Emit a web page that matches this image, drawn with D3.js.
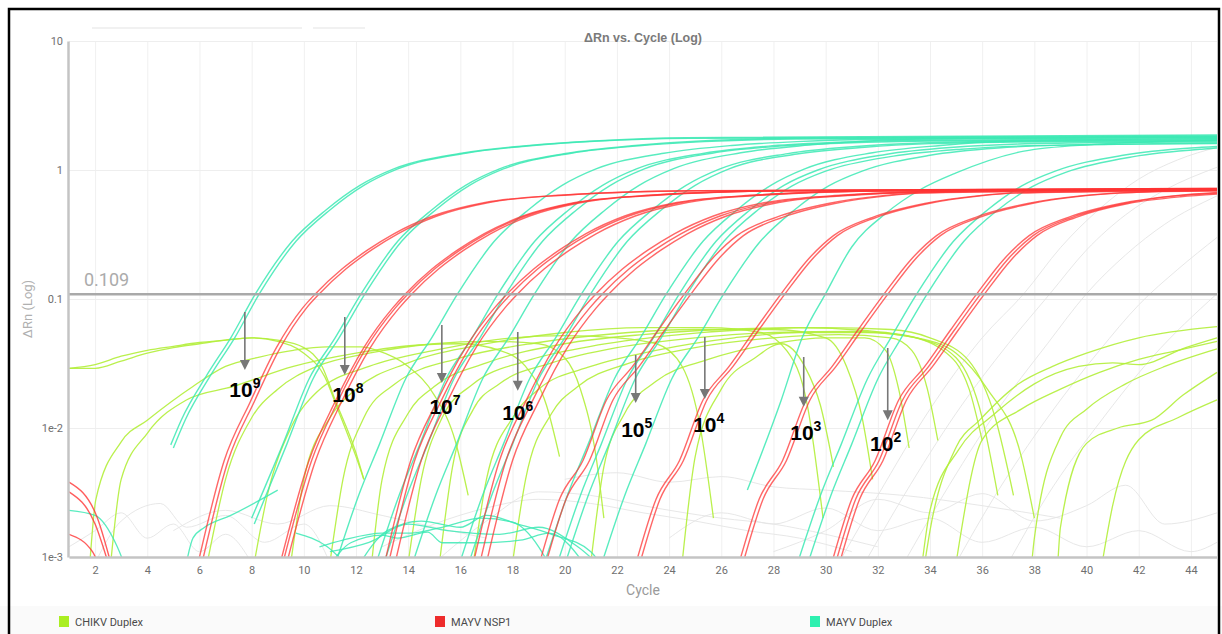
<!DOCTYPE html>
<html><head><meta charset="utf-8">
<script src="https://cdn.jsdelivr.net/npm/d3@7"></script>
<style>
body{margin:0;background:#fff;}
svg{display:block;font-family:Roboto,"Open Sans",sans-serif;}
</style>
</head><body>
<svg id="chart" width="1222" height="634"></svg>
<script>
// ---------- data ----------
const cycleTicks = [2,4,6,8,10,12,14,16,18,20,22,24,26,28,30,32,34,36,38,40,42,44];
const valueTicks = [0.001, 0.01, 0.1, 1, 10];
const valueTickLabels = ["1e-3", "1e-2", "0.1", "1", "10"];
const threshold = 0.109;
const seriesNames = ["CHIKV Duplex", "MAYV NSP1", "MAYV Duplex"];

// MAYV NSP1 amplification curves: [cycle, ΔRn]
const mayvNsp1 = [
 [[5.95,.0009],[6.95,.0056],[7.95,.016],[8.95,.042],[9.95,.085],[10.45,.11],[11.45,.17],[12.45,.24],[13.45,.32],[14.95,.44],[16.95,.56],[19.95,.64],[24.95,.69],[45,.72]],
 [[6.1,.0009],[7.1,.0056],[8.1,.016],[9.1,.042],[10.1,.085],[10.6,.11],[11.6,.17],[12.6,.24],[13.6,.32],[15.1,.44],[17.1,.56],[20.1,.64],[25.1,.69],[45,.715]],
 [[9.1,.0009],[10.2,.0056],[11.2,.016],[12.3,.042],[13.4,.085],[13.9,.11],[14.9,.17],[15.9,.24],[16.9,.32],[18.4,.44],[20.4,.56],[23.4,.64],[28.4,.69],[45,.72]],
 [[9.2,.0009],[10.3,.0056],[11.3,.016],[12.4,.042],[13.5,.085],[14.0,.11],[15.0,.17],[16.0,.24],[17.0,.32],[18.5,.44],[20.5,.56],[23.5,.64],[28.5,.69],[45,.71]],
 [[9.35,.0009],[10.45,.0056],[11.45,.016],[12.55,.042],[13.65,.085],[14.15,.11],[15.15,.17],[16.15,.24],[17.15,.32],[18.65,.44],[20.65,.56],[23.65,.64],[28.65,.69],[45,.70]],
 [[13.1,.0009],[14.1,.0056],[15.1,.016],[16.2,.042],[17.3,.085],[17.8,.11],[18.8,.17],[19.8,.24],[20.8,.32],[22.3,.44],[24.3,.56],[27.3,.64],[32.3,.69],[45,.71]],
 [[13.25,.0009],[14.25,.0056],[15.25,.016],[16.35,.042],[17.45,.085],[17.95,.11],[18.95,.17],[19.95,.24],[20.95,.32],[22.45,.44],[24.45,.56],[27.45,.64],[32.45,.69],[45,.70]],
 [[13.5,.0009],[14.5,.0056],[15.5,.016],[16.6,.042],[17.7,.085],[18.2,.11],[19.2,.17],[20.2,.24],[21.2,.32],[22.7,.44],[24.7,.56],[27.7,.64],[32.7,.69],[45,.71]],
 [[16.5,.0009],[17.5,.0056],[18.5,.016],[19.6,.042],[20.7,.085],[21.2,.11],[22.2,.17],[23.2,.24],[24.2,.32],[25.7,.44],[27.7,.56],[30.7,.64],[35.7,.69],[45,.71]],
 [[16.75,.0009],[17.75,.0056],[18.75,.016],[19.85,.042],[20.95,.085],[21.45,.11],[22.45,.17],[23.45,.24],[24.45,.32],[25.95,.44],[27.95,.56],[30.95,.64],[35.95,.69],[45,.70]],
 [[17.0,.0009],[18.0,.0056],[19.0,.016],[20.1,.042],[21.2,.085],[21.7,.11],[22.7,.17],[23.7,.24],[24.7,.32],[26.2,.44],[28.2,.56],[31.2,.64],[36.2,.69],[45,.71]],
 [[19.1,.001],[19.8,.0028],[20.7,.0056],[21.6,.0165],[22.6,.03],[23.6,.058],[24.6,.11],[25.6,.2],[26.6,.31],[28.1,.43],[30.1,.55],[32.1,.63],[33.6,.665],[45,.70]],
 [[19.35,.001],[20.05,.0028],[20.95,.0056],[21.85,.0165],[22.85,.03],[23.85,.058],[24.85,.11],[25.85,.2],[26.85,.31],[28.35,.43],[30.35,.55],[32.35,.63],[33.85,.665],[45,.71]],
 [[22.8,.001],[23.5,.0028],[24.4,.0056],[25.3,.0165],[26.3,.03],[27.3,.058],[28.3,.11],[29.3,.2],[30.3,.31],[31.8,.43],[33.8,.55],[35.8,.63],[37.3,.665],[45,.70]],
 [[22.95,.001],[23.65,.0028],[24.55,.0056],[25.45,.0165],[26.45,.03],[27.45,.058],[28.45,.11],[29.45,.2],[30.45,.31],[31.95,.43],[33.95,.55],[35.95,.63],[37.45,.665],[45,.69]],
 [[26.75,.001],[27.45,.0028],[28.35,.0056],[29.25,.0165],[30.25,.03],[31.25,.058],[32.25,.11],[33.25,.2],[34.25,.31],[35.75,.43],[37.75,.55],[39.75,.63],[41.25,.665],[45,.69]],
 [[26.9,.001],[27.6,.0028],[28.5,.0056],[29.4,.0165],[30.4,.03],[31.4,.058],[32.4,.11],[33.4,.2],[34.4,.31],[35.9,.43],[37.9,.55],[39.9,.63],[41.4,.665],[45,.70]],
 [[30.3,.001],[31.0,.0028],[31.9,.0056],[32.8,.0165],[33.8,.03],[34.8,.058],[35.8,.11],[36.8,.2],[37.8,.31],[39.3,.43],[41.3,.55],[43.3,.63],[45,.67]],
 [[30.45,.001],[31.15,.0028],[32.05,.0056],[32.95,.0165],[33.95,.03],[34.95,.058],[35.95,.11],[36.95,.2],[37.95,.31],[39.45,.43],[41.45,.55],[43.45,.63],[45,.66]],
 [[30.6,.001],[31.3,.0028],[32.2,.0056],[33.1,.0165],[34.1,.03],[35.1,.058],[36.1,.11],[37.1,.2],[38.1,.31],[39.6,.43],[41.6,.55],[43.6,.62],[45,.65]]
];
// MAYV NSP1 low-level (non-amplifying) traces
const mayvNsp1Noise = [
 [[1,.0038],[2.05,.0021],[2.6,.0009]],
 [[1,.0032],[2.0,.0018],[2.5,.0009]],
 [[1,.0015],[1.9,.0011],[2.2,.0008]]
];

// MAYV Duplex amplification curves
const mayvDuplex = [
 [[4.9,.0074],[5.3,.0115],[6.3,.026],[7.2,.05],[8.15,.11],[9.55,.28],[10.85,.49],[12.15,.76],[13.45,1.02],[16.05,1.35],[18.65,1.55],[21.15,1.68],[24.65,1.78],[45,1.87]],
 [[5.0,.007],[5.45,.0115],[6.45,.026],[7.35,.05],[8.3,.11],[9.7,.28],[11.0,.49],[12.3,.76],[13.6,1.02],[16.2,1.35],[18.8,1.55],[21.3,1.68],[24.8,1.76],[45,1.84]],
 [[8.0,.002],[9.2,.0075],[10.2,.024],[11.2,.05],[12.2,.11],[13.6,.28],[14.9,.49],[16.2,.76],[17.5,1.02],[20.1,1.35],[22.7,1.55],[25.2,1.68],[28.7,1.76],[45,1.82]],
 [[8.1,.0018],[9.35,.0075],[10.35,.024],[11.35,.05],[12.35,.11],[13.75,.28],[15.05,.49],[16.35,.76],[17.65,1.02],[20.25,1.35],[22.85,1.54],[25.35,1.66],[28.85,1.74],[45,1.80]],
 [[11.3,.001],[12.1,.003],[12.9,.0075],[13.9,.024],[14.9,.05],[15.9,.11],[17.3,.28],[18.6,.49],[19.9,.76],[21.2,1.02],[23.8,1.35],[26.4,1.55],[28.9,1.66],[32.4,1.73],[45,1.78]],
 [[12.85,.001],[13.65,.003],[14.45,.0075],[15.45,.024],[16.45,.05],[17.45,.11],[18.85,.28],[20.15,.49],[21.45,.76],[22.75,1.02],[25.35,1.35],[27.95,1.54],[30.45,1.64],[33.95,1.70],[45,1.75]],
 [[13.15,.001],[13.95,.003],[14.75,.0075],[15.75,.024],[16.75,.05],[17.75,.11],[19.15,.28],[20.45,.49],[21.75,.76],[23.05,1.02],[25.65,1.35],[28.25,1.53],[30.75,1.62],[34.25,1.68],[45,1.72]],
 [[14.25,.001],[15.05,.003],[15.85,.0075],[16.85,.024],[17.85,.05],[18.85,.11],[20.25,.28],[21.55,.49],[22.85,.76],[24.15,1.02],[26.75,1.36],[29.35,1.56],[31.85,1.69],[35.35,1.76],[45,1.80]],
 [[16.05,.001],[16.85,.003],[17.65,.0075],[18.65,.024],[19.65,.05],[20.65,.11],[22.05,.28],[23.35,.49],[24.65,.76],[25.95,1.02],[28.55,1.34],[31.15,1.52],[33.65,1.62],[37.15,1.67],[45,1.70]],
 [[16.4,.001],[17.2,.003],[18.0,.0075],[19.0,.024],[20.0,.05],[21.0,.11],[22.4,.28],[23.7,.49],[25.0,.76],[26.3,1.02],[28.9,1.33],[31.5,1.5],[34.0,1.6],[37.5,1.65],[45,1.68]],
 [[19.3,.001],[20.1,.003],[20.9,.0075],[21.9,.024],[22.9,.05],[23.9,.11],[25.3,.28],[26.6,.49],[27.9,.76],[29.2,1.02],[31.8,1.36],[34.4,1.55],[36.9,1.67],[40.4,1.72],[45,1.75]],
 [[19.8,.001],[20.6,.003],[21.4,.0075],[22.4,.024],[23.4,.05],[24.4,.11],[25.8,.28],[27.1,.49],[28.4,.76],[29.7,1.0],[32.3,1.32],[34.9,1.5],[37.4,1.59],[40.9,1.63],[45,1.65]],
 [[20.1,.001],[20.9,.003],[21.7,.0075],[22.7,.024],[23.7,.05],[24.7,.11],[26.1,.28],[27.4,.49],[28.7,.75],[30.0,.98],[32.6,1.28],[35.2,1.45],[37.7,1.54],[41.2,1.58],[45,1.6]],
 [[21.5,.001],[22.3,.003],[23.1,.0075],[24.1,.024],[25.1,.05],[26.1,.11],[27.5,.28],[28.8,.49],[30.1,.75],[31.4,.98],[34.0,1.3],[36.6,1.48],[39.1,1.56],[42.6,1.6],[45,1.62]],
 [[27.0,.0033],[28.3,.0165],[29.1,.05],[30.0,.11],[31.0,.253],[32.3,.46],[33.6,.70],[35.0,.95],[37.6,1.40],[40.3,1.58],[43.6,1.68],[45,1.70]],
 [[29.0,.001],[29.8,.003],[30.6,.0075],[31.6,.024],[32.5,.05],[33.5,.11],[34.9,.28],[36.2,.49],[37.5,.75],[38.8,.98],[41.4,1.3],[44,1.48],[45,1.52]],
 [[29.4,.001],[30.2,.003],[31.0,.0075],[32.0,.024],[32.9,.05],[33.9,.11],[35.3,.28],[36.6,.49],[37.9,.74],[39.2,.96],[41.8,1.27],[44.4,1.45],[45,1.48]]
];
// MAYV Duplex low-level traces
const mayvDuplexNoise = [
 [[1,.0023],[2,.0021],[2.85,.0012],[3.2,.0008]],
 [[5.5,.0009],[5.75,.0014],[6.2,.0017],[7.2,.0021],[9.0,.0033]],
 [[9.7,.00153],[10.9,.0012],[11.8,.0008]],
 [[10.6,.0012],[11.5,.00135],[13,.00153],[14.1,.00153],[15.3,.0017],[16.8,.002],[18,.00186],[19,.0012],[19.5,.0008]],
 [[10.9,.0008],[11.8,.00129],[13,.00148],[13.6,.0014],[14.75,.00156],[15.3,.00129],[16.8,.00129],[18.3,.00135],[19.4,.00153],[20.9,.0008]],
 [[12,.0008],[13.2,.0016],[14.5,.0019],[16,.0017],[17,.0021],[18.2,.0018],[19.5,.0015],[21,.0011],[21.5,.0008]],
 [[11,.0011],[12.5,.0013],[14,.0018],[15.5,.0016],[17.5,.0015],[19,.0017],[20.5,.0012],[21.5,.0008]]
];

// CHIKV Duplex traces
const chikvDuplex = [
 [[1,.029],[2,.031],[3,.036],[4,.040],[5,.043],[6,.046],[7,.048],[8,.05],[9,.048],[10,.042],[10.7,.03],[11.2,.0165],[12,.0064],[12.3,.004]],
 [[1,.029],[2,.029],[3,.033],[4,.038],[5,.042],[6,.045],[7,.048],[8,.05],[9,.047],[10,.038],[10.8,.025],[11.3,.014],[12.0,.006],[12.3,.004]],
 [[1.8,.0009],[2.03,.0028],[3,.0078],[4,.0115],[5.75,.021],[7,.03],[8.3,.0355],[9.6,.04],[10.9,.0425],[12.2,.0425],[12.8,.04],[14,.03],[15,.018],[15.8,.008],[16.3,.003]],
 [[2.6,.0009],[3,.004],[4,.0091],[5.5,.0165],[7.3,.021],[9.6,.03],[12,.038],[14.4,.044],[16,.045],[17.5,.04],[18.5,.03],[19.3,.015],[19.8,.006]],
 [[6.3,.0009],[7,.004],[8,.012],[9,.02],[10.5,.03],[12.5,.038],[15,.045],[17,.047],[19,.045],[20,.035],[20.6,.02],[21.2,.006],[21.5,.002]],
 [[8.1,.0009],[8.6,.003],[9.5,.01],[10.5,.019],[12.5,.03],[15,.04],[18,.05],[20,.052],[22,.05],[23.5,.045],[24.5,.03],[25.2,.01],[25.7,.002]],
 [[9.5,.0009],[10,.004],[11,.012],[12,.02],[14,.032],[17,.045],[20,.055],[23,.06],[25.5,.06],[27.5,.055],[28.5,.04],[29.3,.015],[29.9,.002]],
 [[11,.0009],[11.5,.004],[12.3,.012],[13.5,.022],[16,.035],[19,.046],[22,.054],[25,.058],[28,.058],[30,.05],[30.8,.03],[31.4,.012],[31.8,.004]],
 [[12.6,.0009],[13,.004],[14,.013],[15,.021],[17,.032],[20,.045],[23,.053],[26,.058],[29,.06],[31.5,.057],[33.5,.05],[35,.035],[36,.012],[36.6,.003]],
 [[14,.0009],[14.5,.004],[15.3,.012],[16.5,.022],[18.5,.033],[21,.043],[24,.052],[27,.058],[30,.06],[32.5,.058],[34,.05],[35.5,.033],[36.5,.012],[37.2,.003]],
 [[15.2,.0009],[15.7,.005],[16.5,.014],[17.5,.022],[19.5,.032],[22,.042],[25,.05],[28,.055],[31,.056],[33,.052],[34.5,.04],[35.5,.02],[36,.008]],
 [[16.5,.0009],[17,.004],[18,.012],[19,.02],[21,.03],[23.5,.04],[26.5,.05],[29,.055],[31.5,.055],[33.5,.05],[35,.038],[36.2,.02],[37.5,.006],[38,.002]],
 [[18,.0009],[18.5,.004],[19.5,.013],[20.5,.021],[22.5,.032],[25,.042],[28,.05],[30.5,.053],[32.5,.05],[33.3,.04],[33.9,.02],[34.3,.008]],
 [[21,.0009],[21.5,.005],[22.3,.013],[23.5,.023],[25.5,.034],[28,.045],[30,.05],[31.5,.05],[32.3,.04],[32.8,.02],[33.2,.007]],
 [[24.5,.0009],[25,.006],[26,.02],[27.3,.035],[28.3,.045],[29.2,.03],[29.8,.015],[30.3,.005]],
 [[33.8,.0009],[34,.0016],[35,.0071],[35.9,.0115],[37.4,.022],[38.7,.03],[40,.038],[42,.05],[45,.061]],
 [[33.7,.0009],[34,.0023],[35.1,.0068],[36.5,.013],[38,.022],[39.7,.03],[41,.032],[42,.031],[43.8,.042],[45,.05]],
 [[35,.0009],[36,.0081],[37.5,.014],[39,.02],[40.5,.027],[42,.034],[43.5,.04],[45,.047]],
 [[37.9,.0009],[38,.0014],[39,.0085],[40,.014],[41.5,.022],[43,.03],[45,.041]],
 [[38.9,.0009],[39,.0017],[40,.0076],[41.2,.01],[42.5,.0115],[43.7,.018],[45,.027]],
 [[40.6,.0009],[41,.0025],[42,.0081],[43.5,.012],[45,.0165]]
];

// Other wells (not in legend)
const otherWells = [
 [[30.5,.0009],[32,.003],[34,.014],[36,.05],[37.6,.11],[39,.25],[40.5,.5],[42,.85],[43.5,1.2],[45,1.5]],
 [[31.5,.0009],[33,.003],[35,.013],[37,.045],[38.6,.11],[40,.24],[41.5,.45],[43,.7],[45,1.05]],
 [[33,.0009],[34.5,.003],[36.5,.013],[38.5,.045],[40,.11],[41.5,.22],[43,.38],[45,.63]],
 [[35,.0009],[36.5,.003],[38.5,.012],[40.5,.04],[42,.09],[43.5,.17],[45,.3]],
 [[37,.0009],[38.5,.003],[40.5,.011],[42.5,.035],[45,.11]],
 [[1,.0012],[2,.0016],[3,.0022],[4,.0014],[5,.0018],[6,.0011],[7,.0015],[8,.0009]],
 [[2,.0009],[3,.0019],[4.5,.0026],[5.5,.0017],[7,.0021],[8.5,.0013],[10,.0018],[11,.0009]],
 [[13,.0012],[15,.0018],[17,.0024],[19,.0028],[21,.0026],[23,.0022],[25,.0019],[27,.0016],[29,.0014],[31,.0011]],
 [[15,.0009],[17,.0019],[19,.0032],[21,.003],[23,.0025],[26,.002],[28,.0018],[30,.0015],[32,.0012]],
 [[24,.0014],[26,.0022],[28,.0018],[30,.0024],[32,.0016],[34,.002],[36,.0013],[38,.0017],[40,.0012],[42,.0016],[44,.0011],[45,.0013]],
 [[28,.0011],[30,.0016],[32,.0028],[34,.0022],[36,.0031],[38,.0019],[40,.0025],[41.5,.0036],[43,.0018],[45,.0022]],
 [[20,.004],[22,.0045],[24,.0038],[26,.0042],[28,.0035],[30,.0033],[33,.003],[36,.0025],[39,.002]],
 [[5,.0016],[7,.0023],[9,.0018],[11,.0025],[13,.0021],[15,.0017],[17,.0014]]
];

// Dilution annotations (arrow in data space)
const dilutionExp = ["9","8","7","6","5","4","3","2"];
const arrowCycle = [7.74, 11.57, 15.29, 18.2, 22.72, 25.37, 29.16, 32.38];
const arrowTopValue = [0.0793, 0.0725, 0.0629, 0.0555, 0.0368, 0.0507, 0.0355, 0.0417];
const arrowTipValue = [0.0282, 0.0258, 0.0223, 0.0194, 0.0156, 0.0168, 0.0146, 0.0115];
const labelCycle = [7.74, 11.69, 15.41, 18.2, 22.76, 25.52, 29.24, 32.3];
const labelValue = [0.0174, 0.0159, 0.01285, 0.01153, 0.0085, 0.0093, 0.0081, 0.0066];

// ---------- drawing ----------
const colors = {chikv:"#b2ee3a", nsp1:"#ff3434", duplex:"#3ce9b4", legendChikv:"#aaee22", legendNsp1:"#ee2c2c", legendDuplex:"#2ef0b0"};
const svg = d3.select("#chart");
const x = d3.scaleLinear().domain([1,45]).range([69,1217]);
const y = d3.scaleLog().domain([0.001,10]).range([557,41]);

// outer frame
svg.append("rect").attr("x",0).attr("y",0).attr("width",1222).attr("height",634).attr("fill","#fff");
svg.append("rect").attr("x",0).attr("y",606).attr("width",1222).attr("height",28).attr("fill","#fafafa");
svg.append("rect").attr("x",9).attr("y",9).attr("width",1210).attr("height",650)
  .attr("fill","none").attr("stroke","#000").attr("stroke-width",2.5);
// faint toolbar remnants
svg.append("rect").attr("x",92).attr("y",27).attr("width",210).attr("height",2).attr("fill","#f1f1f1");
svg.append("rect").attr("x",313).attr("y",27).attr("width",52).attr("height",2).attr("fill","#f1f1f1");

// grid
const gridX = svg.append("g").attr("transform","translate(0,557)")
  .call(d3.axisBottom(x).tickValues(cycleTicks).tickSize(-516).tickFormat(""));
gridX.select(".domain").remove();
gridX.selectAll("line").attr("stroke","#f0f0f0");
const gridY = svg.append("g").attr("transform","translate(69,0)")
  .call(d3.axisLeft(y).tickValues(valueTicks).tickSize(-1148).tickFormat(""));
gridY.select(".domain").remove();
gridY.selectAll("line").attr("stroke","#eeeeee");

// clip
svg.append("defs").append("clipPath").attr("id","plotclip")
  .append("rect").attr("x",69).attr("y",41).attr("width",1149).attr("height",516);
const plot = svg.append("g").attr("clip-path","url(#plotclip)");
const line = d3.line().x(d=>x(d[0])).y(d=>y(d[1])).curve(d3.curveMonotoneX);

function drawSet(data, color, width, opacity){
  plot.append("g").selectAll("path").data(data).join("path")
    .attr("d", line).attr("fill","none").attr("stroke",color)
    .attr("stroke-width",width).attr("stroke-opacity",opacity)
    .attr("stroke-linejoin","round");
}
drawSet(otherWells, "#e4e4e4", 1, 0.9);
drawSet(chikvDuplex, colors.chikv, 1.3, 0.9);
drawSet(mayvDuplexNoise, colors.duplex, 1.3, 0.85);
drawSet(mayvDuplex, colors.duplex, 1.4, 0.85);
drawSet(mayvNsp1Noise, colors.nsp1, 1.4, 0.8);
drawSet(mayvNsp1, colors.nsp1, 1.4, 0.75);

// threshold
plot.append("line").attr("x1",69).attr("x2",1217).attr("y1",y(threshold)).attr("y2",y(threshold))
  .attr("stroke","#a9a9a9").attr("stroke-width",2.5);
svg.append("text").attr("x",84).attr("y",y(threshold)-8).text(String(threshold))
  .attr("font-size",18).attr("fill","#ababab");

// axes
const xAxis = svg.append("g").attr("transform","translate(0,557)")
  .call(d3.axisBottom(x).tickValues(cycleTicks).tickSize(0).tickPadding(9));
xAxis.select(".domain").attr("stroke","#c4c4c4").attr("stroke-width",2.5);
xAxis.selectAll("text").attr("font-size",11).attr("fill","#6f6f6f").attr("font-family","Roboto");
const yAxis = svg.append("g").attr("transform","translate(68,0)")
  .call(d3.axisLeft(y).tickValues(valueTicks).tickFormat((d,i)=>valueTickLabels[i]).tickSize(0).tickPadding(5));
yAxis.select(".domain").attr("stroke","#c4c4c4").attr("stroke-width",2.5);
yAxis.selectAll("text").attr("font-size",11).attr("fill","#6f6f6f").attr("font-family","Roboto");

// titles
svg.append("text").attr("x",643).attr("y",42).attr("text-anchor","middle")
  .attr("font-family","Liberation Sans, Arial, sans-serif").attr("font-weight","bold")
  .attr("font-size",12.5).attr("fill","#7a7a7a").text("ΔRn vs. Cycle (Log)");
svg.append("text").attr("transform","translate(32,309) rotate(-90)").attr("text-anchor","middle")
  .attr("font-size",13).attr("fill","#b0b0b0").text("ΔRn (Log)");
svg.append("text").attr("x",643).attr("y",595).attr("text-anchor","middle")
  .attr("font-size",14).attr("fill","#9a9a9a").text("Cycle");

// annotations
const ann = svg.append("g");
dilutionExp.forEach((e,i)=>{
  const ax = x(arrowCycle[i]), y1 = y(arrowTopValue[i]), y2 = y(arrowTipValue[i]);
  ann.append("line").attr("x1",ax).attr("x2",ax).attr("y1",y1).attr("y2",y2-8)
    .attr("stroke","#777").attr("stroke-width",1.6);
  ann.append("path").attr("d",`M${ax-5},${y2-10}L${ax+5},${y2-10}L${ax},${y2}Z`).attr("fill","#777");
  const t = ann.append("text").attr("x",x(labelCycle[i])).attr("y",y(labelValue[i]))
    .attr("text-anchor","middle").attr("font-family","Liberation Sans, Arial, sans-serif")
    .attr("font-weight","bold").attr("font-size",21).attr("fill","#000");
  t.append("tspan").text("10");
  t.append("tspan").attr("dy",-9).attr("font-size",14).text(e);
});

// legend
const legendX = [59, 435, 810];
const legendColors = [colors.legendChikv, colors.legendNsp1, colors.legendDuplex];
seriesNames.forEach((n,i)=>{
  svg.append("rect").attr("x",legendX[i]).attr("y",616).attr("width",10).attr("height",11).attr("fill",legendColors[i]);
  svg.append("text").attr("x",legendX[i]+16).attr("y",626).attr("font-size",11).attr("fill","#4a4a4a").text(n);
});
</script>
</body></html>
